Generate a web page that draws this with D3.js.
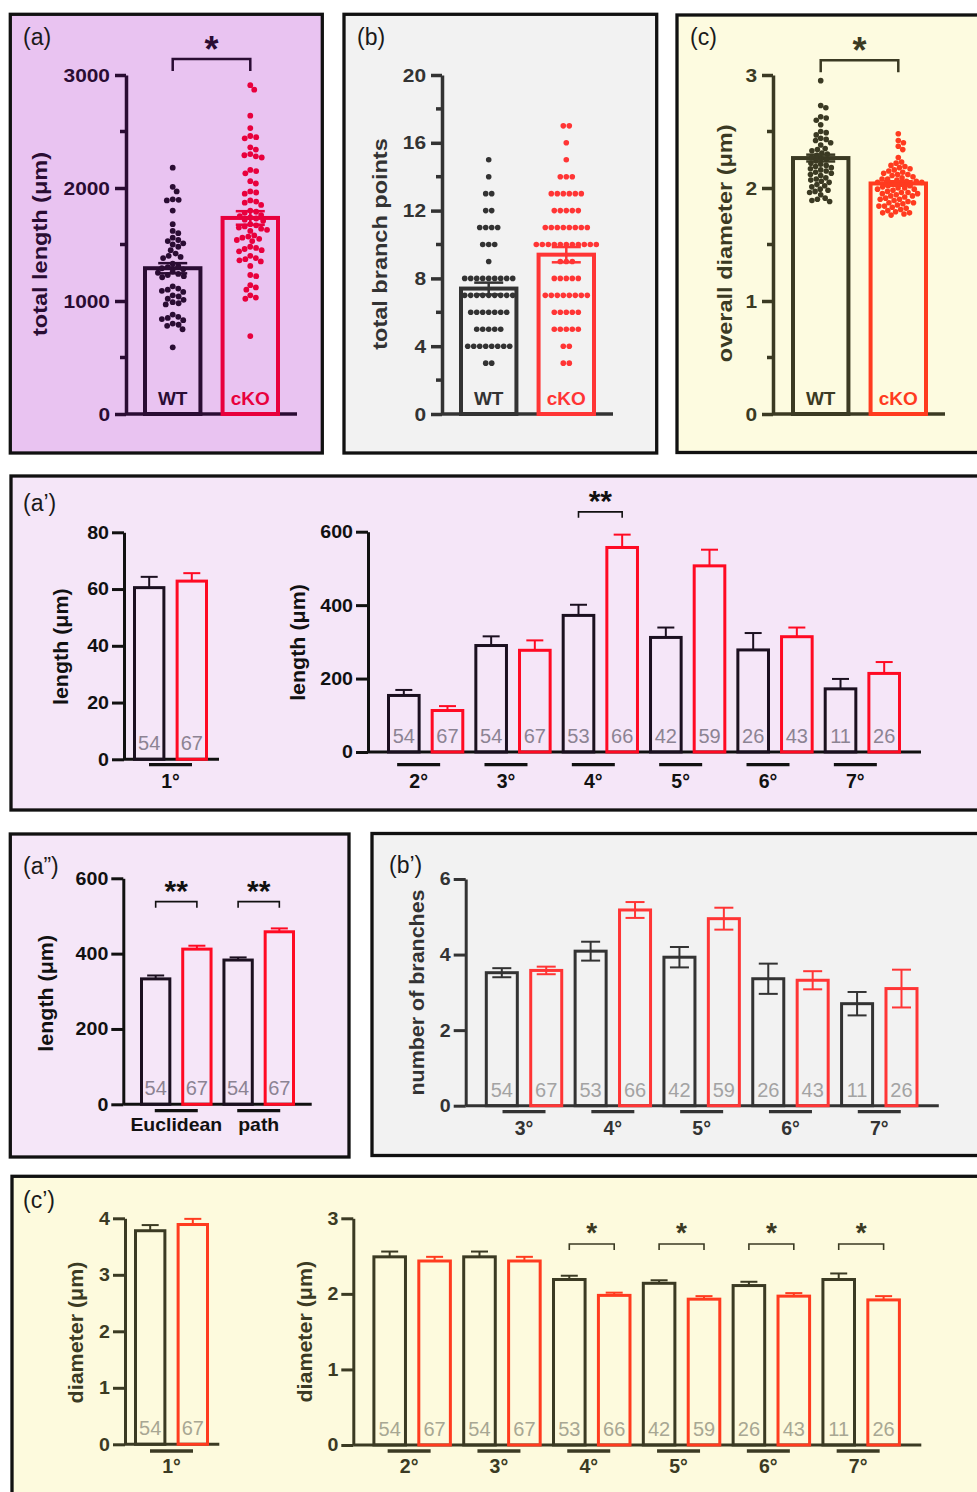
<!DOCTYPE html>
<html lang="en">
<head>
<meta charset="UTF-8">
<title>Dendrite morphology, WT vs cKO</title>
<script src="https://d3js.org/d3.v7.min.js"></script>
<style>
  body { margin: 0; background: #fff; }
  text { font-family: "Liberation Sans", Arial, Helvetica, sans-serif; }
</style>
</head>
<body>
<div id="fig"></div>
<script>
// ---------------- data ----------------
const subgroups = ["WT", "cKO"];

// (a) total dendrite length per cell (um)
const lengthWT = [2180, 2010, 1970, 1900, 1895, 1890, 1800, 1680, 1620, 1600, 1560, 1540, 1530, 1510,
  1500, 1480, 1450, 1420, 1400, 1390, 1380, 1330, 1310, 1300, 1290, 1280, 1260, 1250, 1240, 1230,
  1220, 1210, 1130, 1110, 1100, 1090, 1080, 1050, 1040, 1020, 1010, 990, 980, 970, 880, 860, 850,
  840, 830, 800, 790, 780, 750, 590];
const lengthCKO = [2910, 2870, 2640, 2530, 2460, 2450, 2440, 2360, 2340, 2300, 2290, 2280, 2270, 2160,
  2150, 2130, 2060, 2040, 1970, 1960, 1950, 1890, 1880, 1870, 1850, 1800, 1790, 1780, 1760, 1750,
  1740, 1730, 1720, 1710, 1680, 1670, 1660, 1650, 1640, 1630, 1620, 1580, 1570, 1560, 1550, 1540,
  1530, 1480, 1470, 1460, 1450, 1440, 1400, 1380, 1370, 1360, 1350, 1310, 1230, 1220, 1140, 1120,
  1100, 1050, 1030, 1020, 690];
const lengthMean = [1290, 1735];
const lengthSem = [45, 60];

// (b) total branch points per cell
const branchWT = [15, 14, 13, 13, 12, 12, 11, 11, 11, 11, 10, 10, 10, 9,
  8, 8, 8, 8, 8, 8, 8, 8, 8, 7, 7, 7, 7, 7, 7, 7, 7, 7,
  6, 6, 6, 6, 6, 6, 6, 5, 5, 5, 5, 5, 4, 4, 4, 4, 4, 4, 4, 4, 3, 3];
const branchCKO = [17, 17, 16, 15, 14, 14, 14, 13, 13, 13, 13, 13, 13, 12, 12, 12, 12, 12,
  11, 11, 11, 11, 11, 11, 11, 11, 10, 10, 10, 10, 10, 10, 10, 10, 10, 10, 10,
  9, 9, 9, 8, 8, 8, 8, 8, 7, 7, 7, 7, 7, 7, 7, 7, 6, 6, 6, 6, 6,
  5, 5, 5, 5, 5, 4, 4, 3, 3];
const branchMean = [7.4, 9.4];
const branchSem = [0.35, 0.45];

// (c) overall diameter per cell (um)
const diamWT = [2.95, 2.73, 2.71, 2.63, 2.62, 2.60, 2.56, 2.50, 2.49, 2.47, 2.44, 2.43, 2.42, 2.40,
  2.38, 2.35, 2.34, 2.33, 2.31, 2.30, 2.29, 2.27, 2.26, 2.25, 2.24, 2.22, 2.21, 2.20, 2.19, 2.18,
  2.17, 2.16, 2.15, 2.14, 2.13, 2.12, 2.11, 2.09, 2.08, 2.07, 2.06, 2.05, 2.03, 2.02, 2.01, 1.99,
  1.98, 1.97, 1.96, 1.94, 1.91, 1.90, 1.89, 1.88];
const diamCKO = [2.48, 2.42, 2.40, 2.37, 2.34, 2.27, 2.23, 2.22, 2.20, 2.19, 2.18, 2.17, 2.16, 2.15,
  2.14, 2.13, 2.12, 2.12, 2.11, 2.10, 2.09, 2.08, 2.08, 2.07, 2.06, 2.05, 2.05, 2.04, 2.03, 2.02,
  2.02, 2.01, 2.00, 1.99, 1.99, 1.98, 1.97, 1.96, 1.96, 1.95, 1.94, 1.93, 1.93, 1.92, 1.91, 1.90,
  1.90, 1.89, 1.88, 1.87, 1.87, 1.86, 1.85, 1.84, 1.84, 1.83, 1.82, 1.81, 1.80, 1.79, 1.78, 1.78,
  1.77, 1.76, 2.06, 2.00, 1.95];
const diamMean = [2.265, 2.04];
const diamSem = [0.03, 0.02];

// branch orders and number of cells per order
const orders = ["1°", "2°", "3°", "4°", "5°", "6°", "7°"];
const nWT = [54, 54, 54, 53, 42, 26, 11];
const nCKO = [67, 67, 67, 66, 59, 43, 26];

// (a') length by branch order (mean, SEM)
const ordLenWT = [60.5, 154, 290, 372, 312, 278, 172];
const ordLenWTsem = [3.8, 15, 25, 29, 27, 46, 27];
const ordLenCKO = [62.8, 113, 277, 557, 507, 314, 214];
const ordLenCKOsem = [2.8, 12, 27, 35, 44, 25, 31];

// (a'') Euclidean vs path length
const distTypes = ["Euclidean", "path"];
const distWT = [333, 383];
const distWTsem = [9, 7];
const distCKO = [412, 458];
const distCKOsem = [9, 9];
const distN = [54, 67];

// (b') number of branches, orders 3-7
const nbWT = [3.52, 4.09, 3.93, 3.36, 2.70];
const nbWTsem = [0.12, 0.25, 0.27, 0.40, 0.31];
const nbCKO = [3.58, 5.18, 4.95, 3.32, 3.10];
const nbCKOsem = [0.10, 0.21, 0.29, 0.24, 0.50];

// (c') diameter by branch order
const ordDiaWT = [3.78, 2.49, 2.49, 2.19, 2.14, 2.11, 2.19];
const ordDiaWTsem = [0.10, 0.07, 0.07, 0.05, 0.04, 0.05, 0.08];
const ordDiaCKO = [3.89, 2.435, 2.435, 1.98, 1.93, 1.97, 1.92];
const ordDiaCKOsem = [0.10, 0.055, 0.055, 0.036, 0.04, 0.04, 0.05];

// ---------------- drawing ----------------
const theme = {
  a:  {bg: "#e9c3f1", ink: "#2a0c33", wt: "#2a0c33", ko: "#e8003d"},
  b:  {bg: "#f2f2f2", ink: "#333333", wt: "#333333", ko: "#ff3535"},
  c:  {bg: "#fdfbe0", ink: "#3b3a23", wt: "#3b3a23", ko: "#ff3b1f"},
  a2: {bg: "#f5e6f8", ink: "#111111", wt: "#1b1020", ko: "#ff0a23", n: "#8c8393"},
  b2: {bg: "#f2f2f2", ink: "#333333", wt: "#333333", ko: "#ff3535", n: "#a3a3a3"},
  c2: {bg: "#fdfadd", ink: "#3b3a23", wt: "#3b3a23", ko: "#ff3b1f", n: "#a8a793"}
};

const svg = d3.select("#fig").append("svg")
  .attr("width", 977).attr("height", 1492)
  .style("display", "block").style("background", "#fff");

function txt(g, x, y, s, o) {
  let tr = `translate(${x},${y})`;
  if (o.rot) tr += ` rotate(${o.rot})`;
  if (o.sx && o.sx !== 1) tr += ` scale(${o.sx},1)`;
  return g.append("text")
    .attr("transform", tr)
    .attr("text-anchor", o.anchor || "middle")
    .attr("font-size", o.size)
    .attr("font-weight", o.weight || "bold")
    .attr("fill", o.fill || "#222")
    .text(s);
}

function panel(x, y, w, h, fill, name, lx, ly) {
  svg.append("rect").attr("x", x).attr("y", y).attr("width", w).attr("height", h)
    .attr("fill", fill).attr("stroke", "#111").attr("stroke-width", 3.3);
  txt(svg, lx, ly, name, {size: 23, weight: "normal", anchor: "start", fill: "#1a1a1a"});
}

// simple beeswarm: each dot goes to the free x nearest the centre
function swarm(values, y, r, gap, centerRows) {
  const d = 2 * r + gap;
  const placed = [];
  values.slice().sort(d3.descending).forEach(v => {
    const py = y(v);
    const near = placed.filter(q => Math.abs(q.y - py) < d);
    const cands = [0];
    near.forEach(q => {
      const dx = Math.sqrt(d * d - (q.y - py) ** 2);
      cands.push(q.x + dx, q.x - dx);
    });
    cands.sort((a, b) => Math.abs(a) - Math.abs(b) || b - a);
    const x = cands.find(c => near.every(q => (q.x - c) ** 2 + (q.y - py) ** 2 >= d * d - 0.01));
    placed.push({v, x, y: py});
  });
  if (centerRows) {
    d3.group(placed, p => p.v).forEach(row => {
      const m = d3.mean(row, p => p.x);
      row.forEach(p => { p.x -= m; });
    });
  }
  return placed;
}

function chart(o) {
  const t = o.theme;
  const g = svg.append("g");
  const y = d3.scaleLinear().domain(o.yDomain).range(o.yRange);
  const step = (o.barR - o.barL) / (o.groups.length * 2 - o.pad);
  const gx = d3.scaleBand().domain(o.groups)
    .range([o.barL - step * o.pad / 2, o.barR + step * o.pad / 2]);
  const sx = d3.scaleBand().domain(subgroups).range([0, gx.bandwidth()])
    .paddingInner(o.pad).paddingOuter(o.pad / 2);
  const bw = sx.bandwidth();
  const cx = (grp, s) => gx(grp) + sx(s) + bw / 2;

  // y axis
  const ax = g.append("g").attr("transform", `translate(${o.axisX},0)`)
    .call(d3.axisLeft(y).tickValues(o.ticks).tickSize(o.tickLen).tickSizeOuter(0)
      .tickPadding(o.tickPad).tickFormat(d3.format("d")));
  ax.select(".domain").attr("stroke", t.ink).attr("stroke-width", o.axisW);
  ax.selectAll(".tick line").attr("stroke", t.ink).attr("stroke-width", o.axisW);
  ax.selectAll(".tick text")
    .attr("fill", t.ink).attr("font-size", o.tickFont).attr("font-weight", "bold")
    .each(function () {
      const e = d3.select(this);
      e.attr("x", +e.attr("x") / o.tickSx).attr("transform", `scale(${o.tickSx},1)`);
    });
  if (o.minor) {
    g.selectAll(null).data(o.minor).join("line")
      .attr("x1", o.axisX - o.minorLen).attr("x2", o.axisX)
      .attr("y1", d => y(d)).attr("y2", d => y(d))
      .attr("stroke", t.ink).attr("stroke-width", o.axisW);
  }
  // x axis line
  g.append("line").attr("x1", o.axisX).attr("x2", o.axisEnd)
    .attr("y1", y(0)).attr("y2", y(0))
    .attr("stroke", t.ink).attr("stroke-width", o.axisW);

  const rows = o.groups.flatMap((grp, i) => [
    {grp, s: "WT", m: o.wt[i], e: o.wtSem[i], n: o.nWT ? o.nWT[i] : null, c: t.wt},
    {grp, s: "cKO", m: o.ko[i], e: o.koSem[i], n: o.nKO ? o.nKO[i] : null, c: t.ko}
  ]);

  // bars
  g.selectAll(null).data(rows).join("rect")
    .attr("x", d => gx(d.grp) + sx(d.s) + o.barW / 2)
    .attr("y", d => y(d.m))
    .attr("width", bw - o.barW)
    .attr("height", d => y(0) - y(d.m))
    .attr("fill", "none").attr("stroke", d => d.c).attr("stroke-width", o.barW);

  // individual cells
  if (o.dots) {
    subgroups.forEach((s, i) => {
      const pts = swarm(o.dots[i], y, o.dotR, o.dotGap, o.dotRows);
      g.selectAll(null).data(pts).join("circle")
        .attr("cx", p => cx(o.groups[0], s) + p.x).attr("cy", p => p.y)
        .attr("r", o.dotR).attr("fill", s === "WT" ? t.wt : t.ko);
    });
  }

  // error bars
  const eb = g.selectAll(null).data(rows).join("g")
    .attr("stroke", d => d.c).attr("stroke-width", o.errW);
  eb.append("line")
    .attr("x1", d => cx(d.grp, d.s)).attr("x2", d => cx(d.grp, d.s))
    .attr("y1", d => y(o.errBoth ? d.m - d.e : d.m)).attr("y2", d => y(d.m + d.e));
  eb.append("line")
    .attr("x1", d => cx(d.grp, d.s) - o.cap / 2).attr("x2", d => cx(d.grp, d.s) + o.cap / 2)
    .attr("y1", d => y(d.m + d.e)).attr("y2", d => y(d.m + d.e));
  if (o.errBoth) {
    eb.append("line")
      .attr("x1", d => cx(d.grp, d.s) - o.cap / 2).attr("x2", d => cx(d.grp, d.s) + o.cap / 2)
      .attr("y1", d => y(d.m - d.e)).attr("y2", d => y(d.m - d.e));
  }

  // n per bar
  if (o.nWT) {
    g.selectAll(null).data(rows).join("text")
      .attr("x", d => cx(d.grp, d.s)).attr("y", y(0) - 9)
      .attr("text-anchor", "middle").attr("font-size", 20).attr("fill", t.n)
      .text(d => d.n);
  }

  // WT / cKO labels inside the bars
  if (o.inBar) {
    g.selectAll(null).data(rows).join("text")
      .attr("x", d => cx(d.grp, d.s)).attr("y", o.inBar)
      .attr("text-anchor", "middle").attr("font-size", 19).attr("font-weight", "bold")
      .attr("fill", d => d.c).text(d => d.s);
  }

  // group underline + label
  if (o.underY) {
    o.groups.forEach(grp => {
      const c = gx(grp) + gx.bandwidth() / 2 + (o.labelShift || 0);
      g.append("line").attr("x1", c - o.underW / 2).attr("x2", c + o.underW / 2)
        .attr("y1", o.underY).attr("y2", o.underY)
        .attr("stroke", t.ink).attr("stroke-width", 3.3);
      txt(g, c, o.labelY, grp, {size: o.labelFont, sx: o.labelSx, fill: t.ink});
    });
  }

  // significance brackets
  (o.sig || []).forEach(s => {
    const x1 = cx(s.grp, "WT"), x2 = cx(s.grp, "cKO"), yb = y(o.sigAt);
    g.append("path").attr("d", `M${x1},${yb + o.leg}V${yb}H${x2}V${yb + o.leg}`)
      .attr("fill", "none").attr("stroke", t.ink).attr("stroke-width", o.sigW);
    txt(g, (x1 + x2) / 2, yb - 17.5 + 0.56 * o.starSize, s.mark, {size: o.starSize, fill: t.ink});
  });

  // y title
  txt(g, o.titleX, o.titleY, o.title, {rot: -90, sx: o.titleSx, size: o.titleSize, fill: t.ink});
}

const topStyle = {tickLen: 11, tickPad: 5, tickFont: 19, tickSx: 1.1, axisW: 3.5, barW: 4, errW: 2.5,
  cap: 29, leg: 12, sigW: 2.5, starSize: 36, titleSize: 21, titleSx: 1.12, minorLen: 6,
  errBoth: true, pad: 0.234, inBar: 405, dotR: 2.9, groups: ["all"], yRange: [414, 75]};
const lowStyle = {tickLen: 12, tickPad: 3, tickFont: 18.5, tickSx: 1.06, axisW: 3, barW: 3, errW: 2,
  cap: 17, leg: 6, sigW: 1.6, starSize: 30, titleSize: 19.5, titleSx: 1.1, underW: 43,
  labelFont: 19.5, labelSx: 1};

// panel frames
panel(10.3, 14.3, 312, 438.7, theme.a.bg, "(a)", 23, 45);
panel(344, 14.3, 312.7, 438.7, theme.b.bg, "(b)", 357, 45);
panel(677, 15, 330, 437.5, theme.c.bg, "(c)", 690, 45);
panel(11, 476, 1000, 334, theme.a2.bg, "(a’)", 23, 511);
panel(10.3, 834, 338.7, 323, theme.a2.bg, "(a”)", 23, 874);
panel(372, 833.5, 640, 322, theme.b2.bg, "(b’)", 389, 873);
panel(12, 1176.3, 1000, 340, theme.c2.bg, "(c’)", 23, 1208);

// (a)
chart({...topStyle, theme: theme.a, yDomain: [0, 3000], ticks: [0, 1000, 2000, 3000], minor: [500, 1500, 2500],
  axisX: 126, axisEnd: 297, barL: 143, barR: 280,
  wt: [lengthMean[0]], wtSem: [lengthSem[0]], ko: [lengthMean[1]], koSem: [lengthSem[1]],
  dots: [lengthWT, lengthCKO], dotGap: 0.2,
  sig: [{grp: "all", mark: "*"}], sigAt: 3141,
  title: "total length (μm)", titleX: 47.3, titleY: 244});

// (b)
chart({...topStyle, theme: theme.b, yDomain: [0, 20], ticks: [0, 4, 8, 12, 16, 20], minor: [2, 6, 10, 14, 18],
  axisX: 442, axisEnd: 613, barL: 459, barR: 596, dotR: 2.8,
  wt: [branchMean[0]], wtSem: [branchSem[0]], ko: [branchMean[1]], koSem: [branchSem[1]],
  dots: [branchWT, branchCKO], dotGap: 0.4, dotRows: true,
  title: "total branch points", titleX: 387.3, titleY: 244});

// (c)
chart({...topStyle, theme: theme.c, yDomain: [0, 3], ticks: [0, 1, 2, 3], minor: [0.5, 1.5, 2.5],
  axisX: 773, axisEnd: 945, barL: 791, barR: 928, dotR: 2.8,
  wt: [diamMean[0]], wtSem: [diamSem[0]], ko: [diamMean[1]], koSem: [diamSem[1]],
  dots: [diamWT, diamCKO], dotGap: 0,
  sig: [{grp: "all", mark: "*"}], sigAt: 3.13,
  title: "overall diameter (μm)", titleX: 732.3, titleY: 243.3});

// (a') 1st order
chart({...lowStyle, theme: theme.a2, groups: orders.slice(0, 1), yDomain: [0, 80], yRange: [759.3, 532.3],
  ticks: [0, 20, 40, 60, 80], axisX: 124, axisEnd: 219, barL: 133, barR: 208, pad: 0.24,
  wt: ordLenWT.slice(0, 1), wtSem: ordLenWTsem.slice(0, 1), ko: ordLenCKO.slice(0, 1), koSem: ordLenCKOsem.slice(0, 1),
  nWT: nWT.slice(0, 1), nKO: nCKO.slice(0, 1), underY: 764.7, labelY: 788,
  title: "length (μm)", titleX: 67.5, titleY: 646.7});
// (a') orders 2-7
chart({...lowStyle, theme: theme.a2, groups: orders.slice(1), yDomain: [0, 600], yRange: [752, 531.7],
  ticks: [0, 200, 400, 600], axisX: 368, axisEnd: 921, barL: 387, barR: 901, pad: 0.23,
  wt: ordLenWT.slice(1), wtSem: ordLenWTsem.slice(1), ko: ordLenCKO.slice(1), koSem: ordLenCKOsem.slice(1),
  nWT: nWT.slice(1), nKO: nCKO.slice(1), underY: 764.7, labelY: 788, labelShift: -7,
  sig: [{grp: "4°", mark: "**"}], sigAt: 654,
  title: "length (μm)", titleX: 305, titleY: 642.5});

// (a'')
chart({...lowStyle, theme: theme.a2, groups: distTypes, yDomain: [0, 600], yRange: [1104.3, 878.3],
  ticks: [0, 200, 400, 600], axisX: 123.3, axisEnd: 311.7, barL: 140, barR: 295, pad: 0.24,
  wt: distWT, wtSem: distWTsem, ko: distCKO, koSem: distCKOsem,
  nWT: [distN[0], distN[0]], nKO: [distN[1], distN[1]], underY: 1110.7, labelY: 1131,
  labelFont: 18, labelSx: 1.08,
  sig: [{grp: "Euclidean", mark: "**"}, {grp: "path", mark: "**"}], sigAt: 538,
  title: "length (μm)", titleX: 53.3, titleY: 993.3});

// (b')
chart({...lowStyle, theme: theme.b2, groups: orders.slice(2), yDomain: [0, 6], yRange: [1105.7, 879],
  ticks: [0, 2, 4, 6], axisX: 465.7, axisEnd: 938.8, barL: 484.8, barR: 918.5, pad: 0.234,
  wt: nbWT, wtSem: nbWTsem, ko: nbCKO, koSem: nbCKOsem, errBoth: true, cap: 19,
  nWT: nWT.slice(2), nKO: nCKO.slice(2), underY: 1111.7, labelY: 1135,
  title: "number of branches", titleX: 423.5, titleY: 992.5});

// (c') 1st order
chart({...lowStyle, theme: theme.c2, groups: orders.slice(0, 1), yDomain: [0, 4], yRange: [1444.3, 1218.3],
  ticks: [0, 1, 2, 3, 4], axisX: 125, axisEnd: 219.3, barL: 134, barR: 209, pad: 0.24,
  wt: ordDiaWT.slice(0, 1), wtSem: ordDiaWTsem.slice(0, 1), ko: ordDiaCKO.slice(0, 1), koSem: ordDiaCKOsem.slice(0, 1),
  nWT: nWT.slice(0, 1), nKO: nCKO.slice(0, 1), underY: 1451, labelY: 1473,
  title: "diameter (μm)", titleX: 83.3, titleY: 1332.5});
// (c') orders 2-7
chart({...lowStyle, theme: theme.c2, groups: orders.slice(1), yDomain: [0, 3], yRange: [1445, 1218.3],
  ticks: [0, 1, 2, 3], axisX: 353.3, axisEnd: 921.3, barL: 372.4, barR: 900.9, pad: 0.23,
  wt: ordDiaWT.slice(1), wtSem: ordDiaWTsem.slice(1), ko: ordDiaCKO.slice(1), koSem: ordDiaCKOsem.slice(1),
  nWT: nWT.slice(1), nKO: nCKO.slice(1), underY: 1451, labelY: 1473, labelShift: -3,
  sig: [{grp: "4°", mark: "*"}, {grp: "5°", mark: "*"}, {grp: "6°", mark: "*"}, {grp: "7°", mark: "*"}],
  sigAt: 2.66, starSize: 28,
  title: "diameter (μm)", titleX: 311.5, titleY: 1331.7});
</script>
</body>
</html>
